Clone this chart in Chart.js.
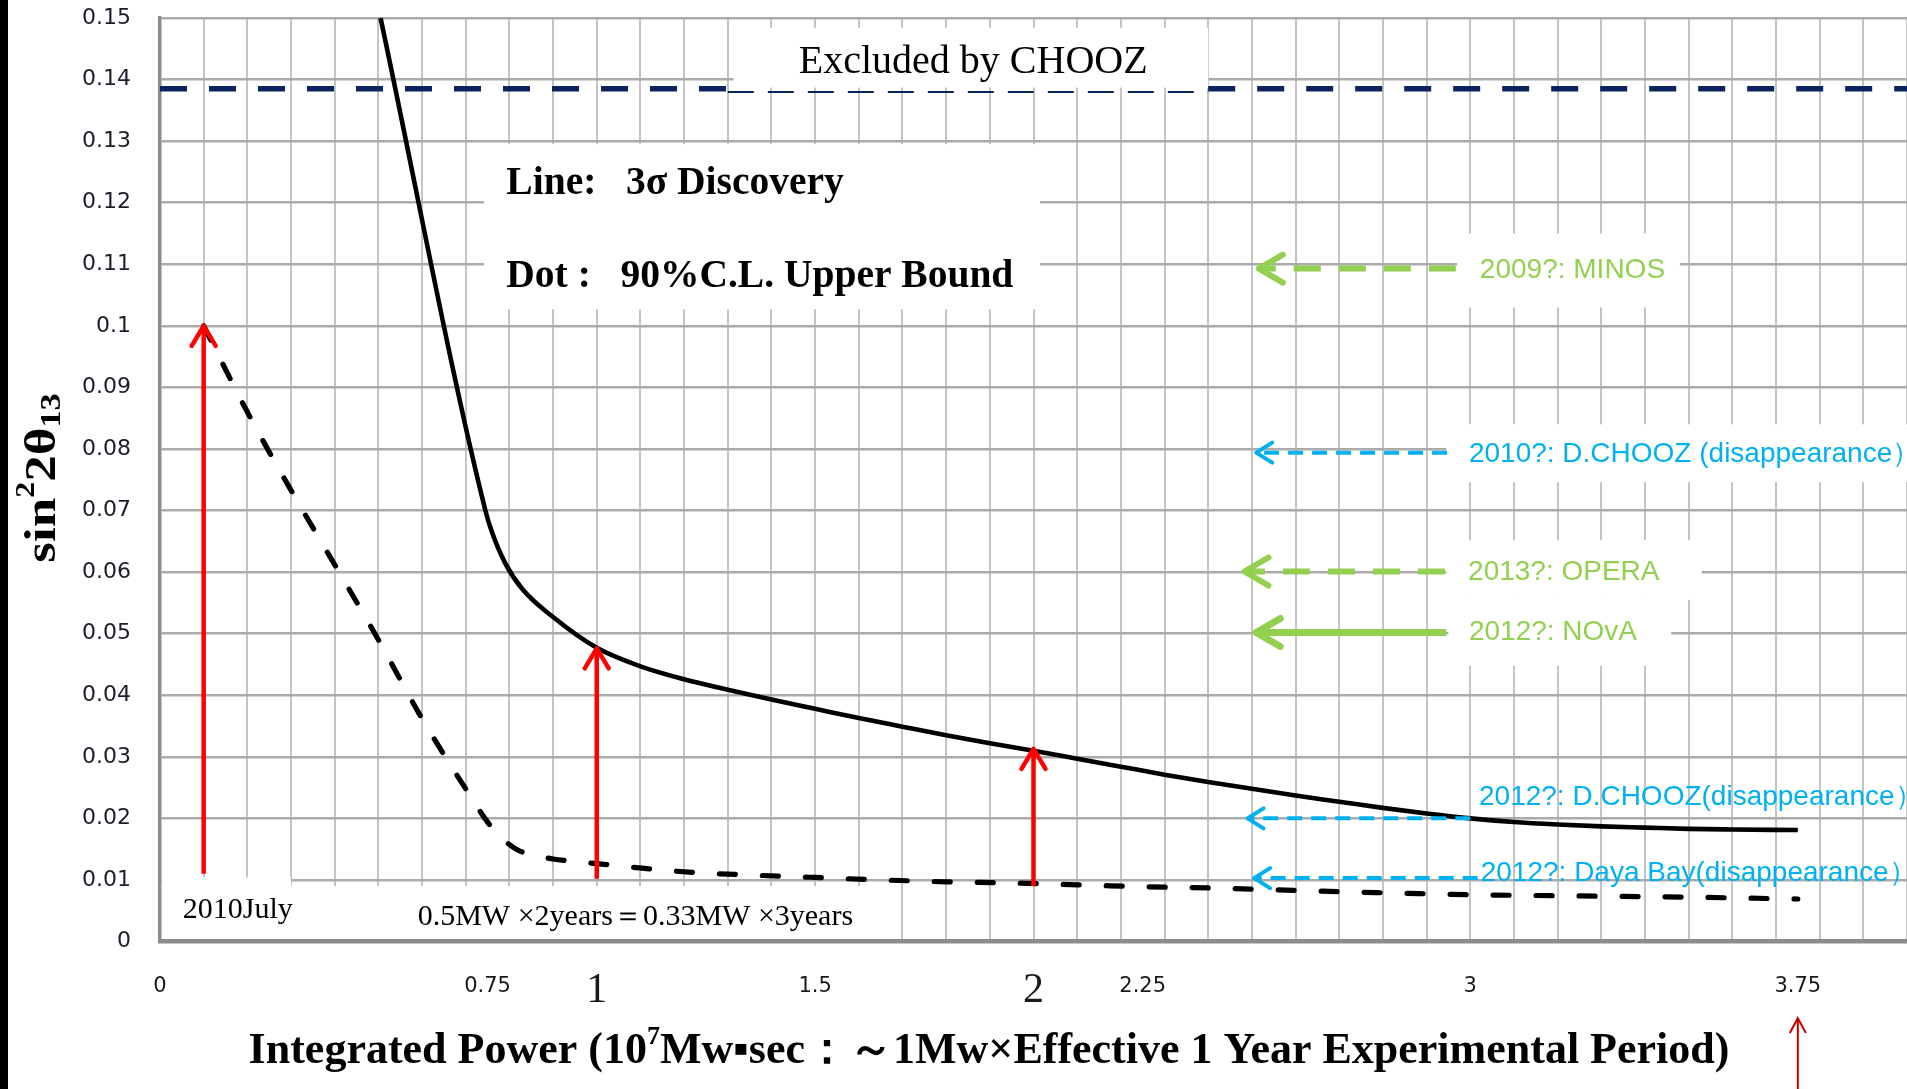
<!DOCTYPE html>
<html>
<head>
<meta charset="utf-8">
<title>sin²2θ13 sensitivity</title>
<script src="https://cdn.jsdelivr.net/npm/chart.js"></script>
<style>
  html, body { margin: 0; padding: 0; background: #fff; overflow: hidden; }
  #wrap { position: relative; width: 1907px; height: 1089px; }
  #edge { position: absolute; left: 0; top: 0; width: 8px; height: 1089px; background: #000; }
</style>
</head>
<body>
<div id="wrap">
  <canvas id="chart" width="1907" height="1089"></canvas>
  <div id="edge"></div>
</div>
<script>
// 3 sigma discovery (solid line)
const discoveryX = [0.505, 0.745, 0.76, 0.79, 0.83, 0.90,
  1.0, 1.1, 1.2, 1.3, 1.4, 1.5, 1.6, 1.7, 1.8, 1.9, 2.0, 2.1, 2.2, 2.3, 2.4, 2.5, 2.6, 2.7, 2.8, 2.9,
  3.0, 3.1, 3.2, 3.3, 3.4, 3.5, 3.6, 3.75];
const discoveryY = [0.150, 0.0700, 0.0665, 0.0615, 0.0572, 0.0527,
  0.0477, 0.0447, 0.0426, 0.0409, 0.0393, 0.0378, 0.0363, 0.0349, 0.0335, 0.0322, 0.0310, 0.0297, 0.0284, 0.0271, 0.0259, 0.0248, 0.0237, 0.0227, 0.0217, 0.0208,
  0.0200, 0.0194, 0.0190, 0.0187, 0.0185, 0.0183, 0.0182, 0.0181];

// 90% C.L. upper bound (dashed line)
const boundX = [0.1, 0.2, 0.3, 0.4, 0.5, 0.6, 0.7, 0.76, 0.816, 0.9, 0.95, 1.05, 1.15, 1.25, 1.35, 1.5, 1.65, 1.8,
  1.95, 2.1, 2.25, 2.4, 2.55, 2.75, 3.0, 3.25, 3.5, 3.75];
const boundY = [0.100, 0.086, 0.0733, 0.0612, 0.049, 0.0362, 0.0248, 0.0185, 0.0150, 0.0134, 0.0130, 0.0123, 0.0116, 0.0111, 0.0108, 0.0104, 0.0100, 0.0097,
  0.0095, 0.0092, 0.0089, 0.0087, 0.0084, 0.0080, 0.0076, 0.0074, 0.0072, 0.0069];

// CHOOZ limit, broken where the label box sits
const choozY = [0.1385, 0.1380, 0.1385];
const choozFromX = [0, 1.30, 2.40];
const choozToX = [1.30, 2.40, 4.0];

// red arrows (bottom -> top)
const redArrowX = [0.1, 1, 2];
const redArrowFrom = [0.011, 0.0102, 0.009];
const redArrowTo = [0.1, 0.0476, 0.0313];

// other experiments
const expNames = ['2009?: MINOS', '2010?: D.CHOOZ (disappearance）', '2013?: OPERA', '2012?: NOvA',
  '2012?: D.CHOOZ(disappearance）', '2012?: Daya Bay(disappearance）'];
const expY = [0.1093, 0.0794, 0.0601, 0.0502, 0.0200, 0.0103];
const expFromX = [2.967, 2.947, 2.942, 2.945, 3.00, 3.017];
const expToX = [2.516, 2.51, 2.483, 2.51, 2.49, 2.505];
const expLabelX = [3.022, 2.997, 2.995, 2.997, 3.02, 3.024];
const expLabelY = [0.1091, 0.0792, 0.0600, 0.0503, 0.0235, 0.0111];

const xTickValues = [0, 0.75, 1, 1.5, 2, 2.25, 3, 3.75];
const xTickLabels = ['0', '0.75', '1', '1.5', '2', '2.25', '3', '3.75'];
const xBigTicks = ['1', '2'];
const yTickValues = [0, 0.01, 0.02, 0.03, 0.04, 0.05, 0.06, 0.07, 0.08, 0.09, 0.1, 0.11, 0.12, 0.13, 0.14, 0.15];
const yTickLabels = ['0', '0.01', '0.02', '0.03', '0.04', '0.05', '0.06', '0.07', '0.08', '0.09', '0.1', '0.11', '0.12', '0.13', '0.14', '0.15'];

// styles
const GREEN = '#92d050', BLUE = '#00b0f0';
const expColor = [GREEN, BLUE, GREEN, GREEN, BLUE, BLUE];
const expDash = [[27, 18], [15, 9], [27, 18], [], [15, 9], [15, 9]];
const expWidth = [6, 4, 6, 7, 4, 4];
const expHead = [{len: 24, half: 14}, {len: 16, half: 10}, {len: 24, half: 14}, {len: 24, half: 14}, {len: 16, half: 10}, {len: 16, half: 10}];
const SERIF = '"Liberation Serif", "Times New Roman", serif';
const SANS = '"Liberation Sans", Arial, sans-serif';

// white boxes behind texts, in data units: [x0, x1, y0, y1]
const maskBoxes = [
  [1.313, 2.40, 0.1387, 0.1484],
  [0.742, 2.015, 0.1027, 0.1295],
  [0.005, 0.30, 0.0004, 0.0104],
  [0.30, 1.69, 0.0004, 0.0090],
  [2.97, 3.48, 0.1030, 0.1150],
  [2.945, 4.0, 0.0746, 0.0840],
  [2.945, 3.53, 0.0555, 0.0652],
  [2.95, 3.46, 0.0448, 0.0555]
];

const notes = [
  {text: 'Excluded by CHOOZ', x: 1.862, y: 0.1427, align: 'center', font: '40px ' + SERIF, color: '#000'},
  {text: 'Line:   3σ Discovery', x: 0.793, y: 0.1230, align: 'left', font: 'bold 39.5px ' + SERIF, color: '#000'},
  {text: 'Dot :   90%C.L. Upper Bound', x: 0.793, y: 0.1079, align: 'left', font: 'bold 39.5px ' + SERIF, color: '#000'},
  {text: '2010July', x: 0.052, y: 0.0051, align: 'left', font: '30px ' + SERIF, color: '#000'},
  {text: '0.5MW ×2years＝0.33MW ×3years', x: 0.59, y: 0.0040, align: 'left', font: '30px ' + SERIF, color: '#000'}
];

const pts = (xs, ys) => xs.map((x, i) => ({x: x, y: ys[i]}));
const isTenth = v => Math.abs(v * 10 - Math.round(v * 10)) < 1e-6;
const labelIndex = v => xTickValues.findIndex(t => Math.abs(t - v) < 1e-6);

const gridTicks = [];
for (let i = 0; i <= 40; i++) gridTicks.push(i / 10);
const allXTicks = gridTicks.concat(xTickValues.filter(v => !isTenth(v))).sort((a, b) => a - b);

const datasets = [];
redArrowX.forEach((x, i) => datasets.push({
  data: [{x: x, y: redArrowFrom[i]}, {x: x, y: redArrowTo[i]}],
  borderColor: '#ff0000', borderWidth: 4.5, arrow: {len: 20, half: 12}, order: 0
}));
expNames.forEach((n, i) => datasets.push({
  data: [{x: expFromX[i], y: expY[i]}, {x: expToX[i], y: expY[i]}],
  borderColor: expColor[i], borderWidth: expWidth[i], borderDash: expDash[i], arrow: expHead[i], order: 1
}));
datasets.push({
  data: pts(discoveryX, discoveryY), borderColor: '#000', borderWidth: 4.6,
  cubicInterpolationMode: 'monotone', order: 2
});
datasets.push({
  data: pts(boundX, boundY), borderColor: '#000', borderWidth: 5.2, borderDash: [16, 27],
  borderCapStyle: 'round', cubicInterpolationMode: 'monotone', order: 2
});
choozY.forEach((y, i) => datasets.push({
  data: [{x: choozFromX[i], y: y}, {x: choozToX[i], y: y}],
  borderColor: '#0b2460', borderWidth: i === 1 ? 2 : 5.5, borderDash: i === 1 ? [26, 14] : [27, 22], order: 3
}));

function toPx(chart, x, y) {
  return [chart.scales.x.getPixelForValue(x), chart.scales.y.getPixelForValue(y)];
}

const masks = {
  id: 'masks',
  beforeDatasetsDraw(chart) {
    const ctx = chart.ctx;
    ctx.save();
    ctx.fillStyle = '#fff';
    maskBoxes.forEach(b => {
      const [x0, y1] = toPx(chart, b[0], b[3]);
      const [x1, y0] = toPx(chart, b[1], b[2]);
      ctx.fillRect(x0, y1, x1 - x0, y0 - y1);
    });
    ctx.restore();
  }
};

function drawHead(ctx, tipX, tipY, ang, len, half) {
  const c = Math.cos(ang), s = Math.sin(ang);
  const bx = tipX - len * c, by = tipY - len * s;
  ctx.beginPath();
  ctx.moveTo(bx - half * s, by + half * c);
  ctx.lineTo(tipX, tipY);
  ctx.lineTo(bx + half * s, by - half * c);
  ctx.stroke();
}

// draws text pieces (super/subscripts) centred on cx, with an optional horizontal stretch
function drawRuns(ctx, runs, cx, cy, stretch) {
  const k = stretch || 1;
  let total = 0;
  runs.forEach(r => { ctx.font = r.font; r.w = ctx.measureText(r.t).width; total += r.w; });
  ctx.save();
  ctx.translate(cx, cy);
  ctx.scale(k, 1);
  let x = -total / 2;
  ctx.textAlign = 'left';
  ctx.textBaseline = 'middle';
  runs.forEach(r => { ctx.font = r.font; ctx.fillText(r.t, x, r.dy || 0); x += r.w; });
  ctx.restore();
}

const overlay = {
  id: 'overlay',
  afterDatasetsDraw(chart) {
    const ctx = chart.ctx;
    ctx.save();
    ctx.setLineDash([]);
    ctx.lineCap = 'round';
    ctx.lineJoin = 'round';
    chart.data.datasets.forEach((ds, i) => {
      if (!ds.arrow) return;
      const el = chart.getDatasetMeta(i).data;
      const a = el[el.length - 2], b = el[el.length - 1];
      ctx.strokeStyle = ds.borderColor;
      ctx.lineWidth = ds.borderWidth;
      drawHead(ctx, b.x, b.y, Math.atan2(b.y - a.y, b.x - a.x), ds.arrow.len, ds.arrow.half);
    });
    ctx.textBaseline = 'middle';
    notes.forEach(n => {
      const [x, y] = toPx(chart, n.x, n.y);
      ctx.font = n.font; ctx.fillStyle = n.color; ctx.textAlign = n.align;
      ctx.fillText(n.text, x, y);
    });
    expNames.forEach((n, i) => {
      const [x, y] = toPx(chart, expLabelX[i], expLabelY[i]);
      ctx.font = '28px ' + SANS; ctx.fillStyle = expColor[i]; ctx.textAlign = 'left';
      ctx.fillText(n, x, y);
    });
    ctx.restore();
  },
  afterDraw(chart) {
    const ctx = chart.ctx;
    ctx.save();
    ctx.fillStyle = '#000';
    // x axis title
    drawRuns(ctx, [
      {t: 'Integrated Power (10', font: 'bold 44px ' + SERIF},
      {t: '7', font: 'bold 26px ' + SERIF, dy: -15},
      {t: 'Mw▪sec：～1Mw×Effective 1 Year Experimental Period)', font: 'bold 44px ' + SERIF}
    ], 989, 1052);
    // y axis title
    ctx.translate(43, 478);
    ctx.rotate(-Math.PI / 2);
    drawRuns(ctx, [
      {t: 'sin', font: 'bold 45px ' + SERIF},
      {t: '2', font: 'bold 27px ' + SERIF, dy: -16},
      {t: '2θ', font: 'bold 45px ' + SERIF},
      {t: '13', font: 'bold 29px ' + SERIF, dy: 10}
    ], 0, 0, 1.18);
    ctx.restore();
    // small arrow under 3.75
    ctx.save();
    const ax = chart.scales.x.getPixelForValue(3.75);
    ctx.strokeStyle = '#c00000';
    ctx.lineWidth = 2;
    ctx.beginPath();
    ctx.moveTo(ax, 1089);
    ctx.lineTo(ax, 1018);
    ctx.stroke();
    drawHead(ctx, ax, 1018, -Math.PI / 2, 15, 8);
    ctx.restore();
  }
};

new Chart(document.getElementById('chart').getContext('2d'), {
  type: 'line',
  data: {datasets: datasets},
  options: {
    responsive: false,
    animation: false,
    devicePixelRatio: 1,
    layout: {padding: {left: 0, right: 0, top: 18, bottom: 0}},
    elements: {point: {radius: 0, hoverRadius: 0}, line: {fill: false, tension: 0}},
    plugins: {legend: {display: false}, tooltip: {enabled: false}},
    events: [],
    scales: {
      x: {
        type: 'linear', min: 0, max: 4,
        afterBuildTicks: s => { s.ticks = allXTicks.map(v => ({value: v})); },
        afterFit: s => { s.height = 147.5; s.paddingLeft = 0; s.paddingRight = 0; },
        grid: {
          color: c => (c.tick && !isTenth(c.tick.value)) ? 'rgba(0,0,0,0)' : '#c4c4c4',
          lineWidth: 2, drawTicks: false
        },
        border: {color: '#8c8c8c', width: 4.5},
        ticks: {
          autoSkip: false, maxRotation: 0, padding: 32.5, color: '#1a1a1a',
          callback: v => { const k = labelIndex(v); return k < 0 ? '' : xTickLabels[k]; },
          font: c => {
            const k = c.tick ? labelIndex(c.tick.value) : -1;
            if (k >= 0 && xBigTicks.includes(xTickLabels[k])) return {family: SERIF, size: 42, lineHeight: 0.8};
            return {family: '"DejaVu Sans", sans-serif', size: 21};
          }
        }
      },
      y: {
        type: 'linear', min: 0, max: 0.15,
        afterBuildTicks: s => { s.ticks = yTickValues.map(v => ({value: v})); },
        afterFit: s => { s.width = 160; s.paddingTop = 0; s.paddingBottom = 0; },
        grid: {color: '#ababab', lineWidth: 2.5, drawTicks: false},
        border: {color: '#8c8c8c', width: 3.5},
        ticks: {
          padding: 29, color: '#1c1c2a',
          font: {family: '"DejaVu Sans", sans-serif', size: 22},
          callback: (v, i) => yTickLabels[i]
        }
      }
    }
  },
  plugins: [masks, overlay]
});
</script>
</body>
</html>
